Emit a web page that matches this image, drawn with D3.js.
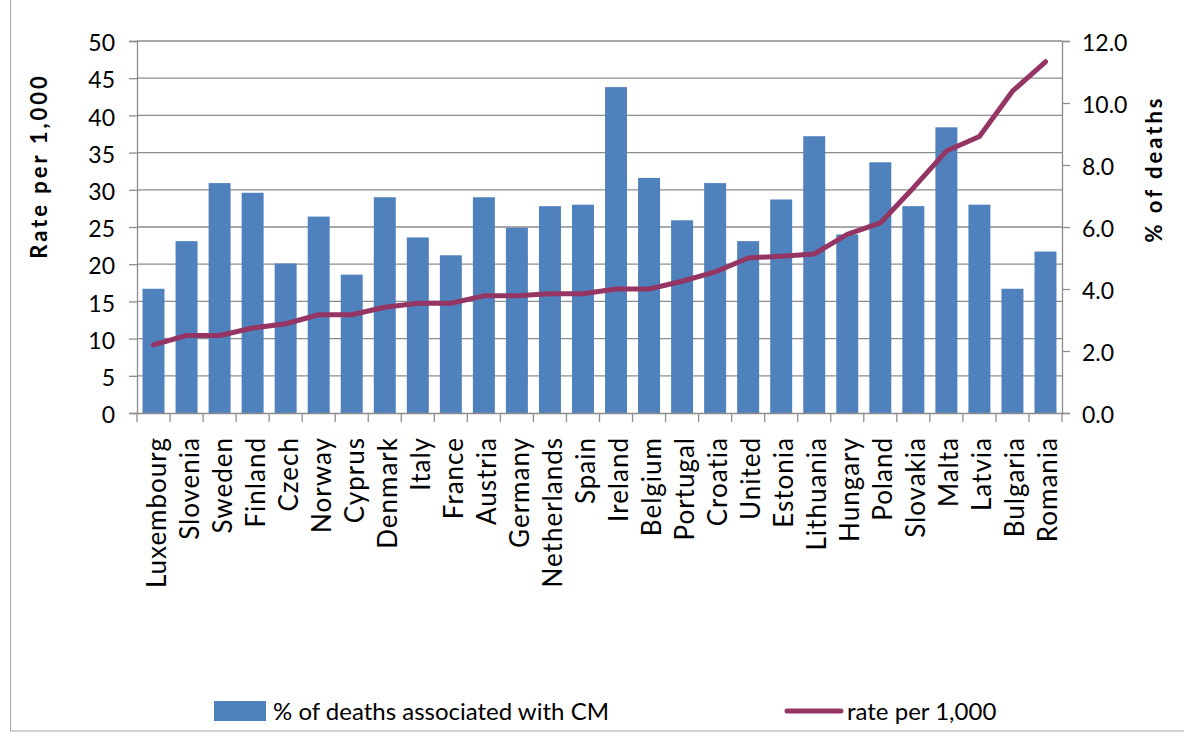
<!DOCTYPE html>
<html><head><meta charset="utf-8">
<script src="https://cdn.jsdelivr.net/npm/d3@7"></script>
<style>
html,body{margin:0;padding:0;background:#fff;}
svg{display:block;font-family:Lato,"Open Sans",sans-serif;}
</style></head>
<body><svg id="c" width="1184" height="734"></svg>
<script>
const countries = ["Luxembourg","Slovenia","Sweden","Finland","Czech","Norway","Cyprus","Denmark","Italy","France","Austria","Germany","Netherlands","Spain","Ireland","Belgium","Portugal","Croatia","United","Estonia","Lithuania","Hungary","Poland","Slovakia","Malta","Latvia","Bulgaria","Romania"];
// bars: % of deaths associated with CM (read against left axis)
const barValues = [16.7,23.1,30.9,29.6,20.1,26.4,18.6,29.0,23.6,21.2,29.0,24.9,27.8,28.0,43.8,31.6,25.9,30.9,23.1,28.7,37.2,24.0,33.7,27.8,38.4,28.0,16.7,21.7];
// line: rate per 1,000 (read against right axis)
const lineValues = [2.2,2.5,2.5,2.74,2.88,3.17,3.17,3.41,3.54,3.54,3.78,3.78,3.85,3.85,4.0,4.0,4.25,4.55,5.0,5.06,5.13,5.76,6.13,7.26,8.45,8.92,10.38,11.33];
const leftTicks = [0,5,10,15,20,25,30,35,40,45,50];
const rightTicks = [0,2,4,6,8,10,12];
const leftTitle = "Rate per 1,000";
const rightTitle = "% of deaths";
const legendBar = "% of deaths associated with CM";
const legendLine = "rate per 1,000";

const svg = d3.select("#c");
const L = 137, R = 1062, T = 41, B = 413;
const blue = "#4F81BD", plum = "#953563", grid = "#8c8c8c";

// chart border
svg.append("rect").attr("x",10.5).attr("y",-5).attr("width",1190).attr("height",736)
  .attr("fill","none").attr("stroke","#a6a6a6").attr("stroke-width",1);

const x = d3.scaleBand().domain(countries).range([L,R]).paddingInner(0.335).paddingOuter(0.1675);
const yL = d3.scaleLinear().domain([0,50]).range([B,T]);
const yR = d3.scaleLinear().domain([0,12]).range([B,T]);

// gridlines
svg.append("g").selectAll("line").data(leftTicks.filter(d=>d>0)).join("line")
  .attr("x1",L).attr("x2",R).attr("y1",d=>yL(d)).attr("y2",d=>yL(d))
  .attr("stroke",grid).attr("stroke-width",1.3);

// bars
svg.append("g").selectAll("rect").data(countries).join("rect")
  .attr("x",d=>x(d)).attr("width",x.bandwidth())
  .attr("y",(d,i)=>yL(barValues[i])).attr("height",(d,i)=>B-yL(barValues[i]))
  .attr("fill",blue);

// line
const line = d3.line().x((d,i)=>x(countries[i])+x.bandwidth()/2).y(d=>yR(d));
svg.append("path").datum(lineValues).attr("d",line)
  .attr("fill","none").attr("stroke",plum).attr("stroke-width",5)
  .attr("stroke-linejoin","round").attr("stroke-linecap","round");

// axes
const axL = svg.append("g").attr("transform",`translate(${L},0)`)
  .call(d3.axisLeft(yL).tickValues(leftTicks).tickSize(8).tickPadding(14).tickFormat(d3.format("d")));
const axR = svg.append("g").attr("transform",`translate(${R},0)`)
  .call(d3.axisRight(yR).tickValues(rightTicks).tickSize(8).tickPadding(12).tickFormat(d3.format(".1f")));
const step = x.step();
const axB = svg.append("g").attr("transform",`translate(0,${B})`)
  .call(d3.axisBottom(x).tickSize(0).tickFormat(""));
[axL,axR,axB].forEach(a=>{
  a.select(".domain").attr("stroke",grid).attr("stroke-width",1.3);
  a.selectAll(".tick line").attr("stroke",grid).attr("stroke-width",1.3);
  a.selectAll("text").attr("fill","#000").style("font-size","23px").style("font-family","Lato");
});
axL.selectAll("text").attr("dy","0.42em");
axR.selectAll("text").attr("dy","0.42em");
// category boundary ticks
svg.append("g").selectAll("line").data(d3.range(countries.length+1)).join("line")
  .attr("x1",i=>L+i*step).attr("x2",i=>L+i*step).attr("y1",B).attr("y2",B+9)
  .attr("stroke",grid).attr("stroke-width",1.3);

// category labels
svg.append("g").selectAll("text").data(countries).join("text")
  .attr("transform",d=>`translate(${x(d)+x.bandwidth()/2+12},437) rotate(-90)`)
  .attr("text-anchor","end").style("font-size","26px").style("letter-spacing","1px")
  .text(d=>d);

// axis titles
svg.append("text").attr("transform","translate(47,166) rotate(-90)")
  .attr("text-anchor","middle").style("font-size","22px").style("font-weight","bold")
  .style("letter-spacing","3px").text(leftTitle);
svg.append("text").attr("transform","translate(1162,169) rotate(-90)")
  .attr("text-anchor","middle").style("font-size","22px").style("font-weight","bold")
  .style("letter-spacing","3px").text(rightTitle);

// legend
svg.append("rect").attr("x",214).attr("y",701).attr("width",52).attr("height",20).attr("fill",blue);
svg.append("text").attr("x",273).attr("y",720).style("font-size","24px").text(legendBar);
svg.append("line").attr("x1",787).attr("x2",841).attr("y1",711).attr("y2",711)
  .attr("stroke",plum).attr("stroke-width",5).attr("stroke-linecap","round");
svg.append("text").attr("x",847).attr("y",720).style("font-size","24px").text(legendLine);
</script></body></html>
